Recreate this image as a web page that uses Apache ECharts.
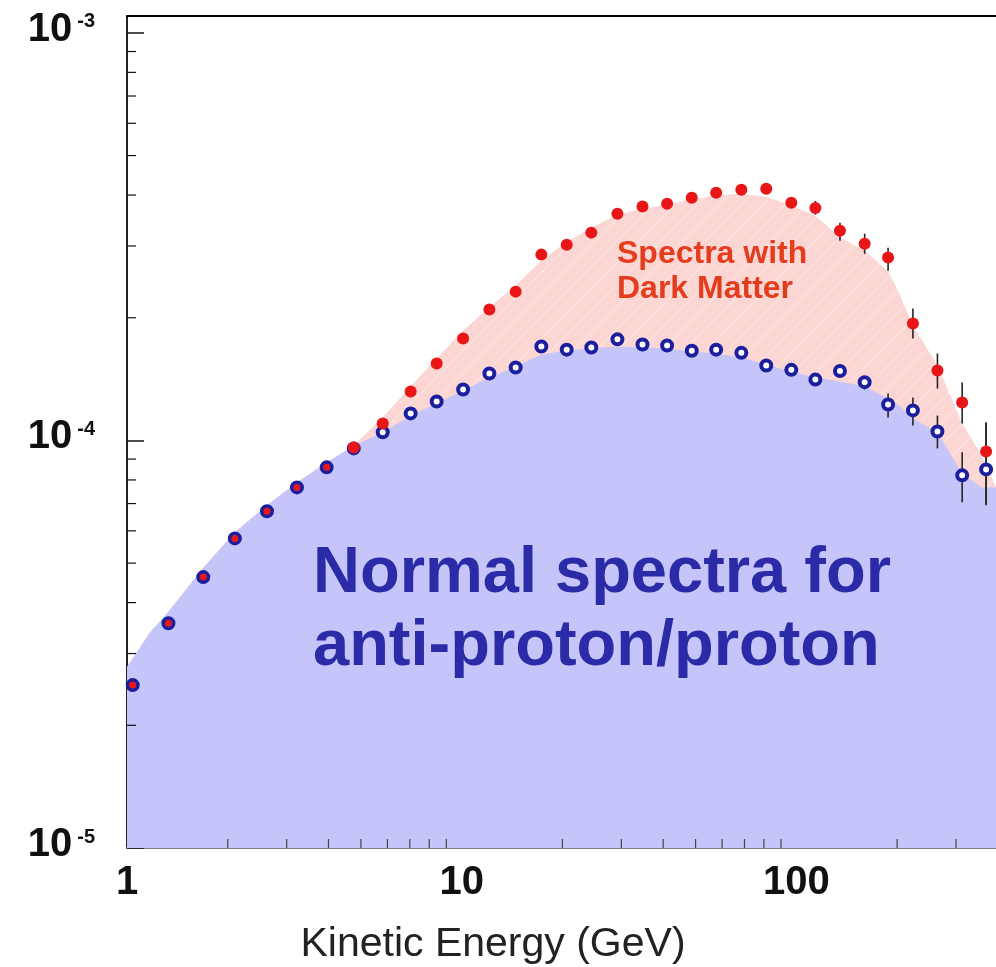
<!DOCTYPE html>
<html><head><meta charset="utf-8">
<script src="https://cdn.jsdelivr.net/npm/echarts@6/dist/echarts.min.js"></script>
<style>html,body{margin:0;padding:0;background:#fff}#c{width:996px;height:967px}</style>
</head><body><div id="c"></div>
<script>
// Measured points (kinetic energy in GeV)
const energies = [1.04,1.33,1.69,2.10,2.62,3.22,3.95,4.76,5.81,7.04,8.42,10.1,12.1,14.5,17.3,20.6,24.4,29.2,34.7,41.1,48.7,57.6,68.5,81.3,96.6,114,135,160,188,223,264,313,369];
const normalValues = [2.51e-5,3.56e-5,4.62e-5,5.75e-5,6.70e-5,7.67e-5,8.59e-5,9.56e-5,1.047e-4,1.165e-4,1.246e-4,1.333e-4,1.459e-4,1.51e-4,1.70e-4,1.67e-4,1.69e-4,1.77e-4,1.72e-4,1.71e-4,1.66e-4,1.67e-4,1.64e-4,1.527e-4,1.49e-4,1.41e-4,1.48e-4,1.39e-4,1.225e-4,1.185e-4,1.052e-4,8.21e-5,8.49e-5];
const darkMatterValues = [2.51e-5,3.56e-5,4.62e-5,5.75e-5,6.70e-5,7.67e-5,8.59e-5,9.61e-5,1.10e-4,1.318e-4,1.544e-4,1.778e-4,2.095e-4,2.318e-4,2.857e-4,3.02e-4,3.235e-4,3.60e-4,3.75e-4,3.81e-4,3.94e-4,4.055e-4,4.12e-4,4.145e-4,3.83e-4,3.72e-4,3.27e-4,3.04e-4,2.81e-4,1.935e-4,1.484e-4,1.239e-4,9.40e-5];
// error bars: [energy, low, high]
const normalErrors = [[135,1.451e-4,1.518e-4],[160,1.334e-4,1.435e-4],[188,1.138e-4,1.304e-4],[223,1.088e-4,1.275e-4],[264,9.56e-5,1.151e-4],[313,7.05e-5,9.35e-5],[369,6.97e-5,1.107e-4]];
const darkMatterErrors = [[114,3.58e-4,3.87e-4],[135,3.09e-4,3.42e-4],[160,2.87e-4,3.216e-4],[188,2.61e-4,2.97e-4],[223,1.778e-4,2.106e-4],[264,1.341e-4,1.634e-4],[313,1.10e-4,1.387e-4],[369,6.93e-5,1.107e-4]];
// Model spectra (filled areas)
const modelEnergies = [1.0,1.171,1.326,1.686,2.10,2.62,3.22,3.95,4.76,5.81,7.04,8.42,10.1,12.1,14.5,17.3,20.6,24.4,29.2,34.7,41.1,48.7,57.6,68.5,81.3,96.6,114,135,160,188,203,223,264,313,358,395];
const normalModel = [2.78e-5,3.38e-5,3.79e-5,4.86e-5,5.95e-5,6.93e-5,7.89e-5,8.83e-5,9.72e-5,1.046e-4,1.151e-4,1.232e-4,1.326e-4,1.427e-4,1.518e-4,1.624e-4,1.662e-4,1.68e-4,1.70e-4,1.69e-4,1.68e-4,1.652e-4,1.634e-4,1.597e-4,1.536e-4,1.476e-4,1.427e-4,1.395e-4,1.356e-4,1.268e-4,1.219e-4,1.132e-4,1.046e-4,8.30e-5,7.67e-5,7.67e-5];
const darkMatterModel = [2.78e-5,3.38e-5,3.79e-5,4.86e-5,5.95e-5,6.93e-5,7.89e-5,8.83e-5,9.72e-5,1.138e-4,1.356e-4,1.589e-4,1.86e-4,2.118e-4,2.398e-4,2.76e-4,3.074e-4,3.327e-4,3.58e-4,3.70e-4,3.79e-4,3.90e-4,3.99e-4,4.03e-4,3.96e-4,3.77e-4,3.56e-4,3.145e-4,2.92e-4,2.60e-4,2.29e-4,1.913e-4,1.527e-4,1.101e-4,9.19e-5,7.67e-5];
// Axis ranges and minor ticks
const X_MIN = 1, X_MAX = 395, Y_MIN = 1e-5, Y_MAX = 1.1e-3;
const xMinorTicks = [2,3,4,5,6,7,8,9,20,30,40,50,60,70,80,90,200,300];
const yMinorTicks = [2e-5,3e-5,4e-5,5e-5,6e-5,7e-5,8e-5,9e-5,2e-4,3e-4,4e-4,5e-4,6e-4,7e-4,8e-4,9e-4];

function hatch(){
  const s = 22, c = document.createElement('canvas'); c.width = s; c.height = s;
  const g = c.getContext('2d');
  g.fillStyle = '#fcd6d3'; g.fillRect(0,0,s,s);
  g.strokeStyle = 'rgba(255,255,255,0.35)'; g.lineWidth = 1.2;
  g.beginPath(); g.moveTo(-2,s+2); g.lineTo(s+2,-2); g.stroke();
  return c;
}

const chart = echarts.init(document.getElementById('c'), null, {renderer:'canvas'});
const FONT = '"Liberation Sans", Arial, sans-serif';

const tickSeries = (data, vertical, len, color) => ({
  type:'custom', coordinateSystem:'cartesian2d', z:6, silent:true,
  data: data,
  renderItem(params, api){
    const p = api.coord([api.value(0), api.value(1)]);
    const shape = vertical ? {x1:p[0], y1:p[1], x2:p[0], y2:p[1]-len} : {x1:p[0], y1:p[1], x2:p[0]+len, y2:p[1]};
    return {type:'line', shape, style:{stroke:color, lineWidth:1.2}};
  }
});

const errSeries = (data) => ({
  type:'custom', coordinateSystem:'cartesian2d', z:7, silent:true,
  data: data, encode:{x:0, y:[1,2]},
  renderItem(params, api){
    const x = api.value(0);
    const a = api.coord([x, api.value(1)]), b = api.coord([x, api.value(2)]);
    return {type:'line', shape:{x1:a[0], y1:a[1], x2:b[0], y2:b[1]}, style:{stroke:'#262626', lineWidth:1.6}};
  }
});

chart.setOption({
  animation:false,
  backgroundColor:'#fff',
  grid:{left:127, right:0, top:16, bottom:119, containLabel:false, outerBoundsMode:'none'},
  xAxis:[{
    type:'log', logBase:10, min:X_MIN, max:X_MAX, position:'bottom',
    axisLine:{show:true, lineStyle:{color:'#808080', width:2}},
    axisTick:{show:true, inside:true, length:17, lineStyle:{color:'#444', width:1.2}},
    axisLabel:{fontSize:40, fontWeight:'bold', fontFamily:FONT, color:'#111', margin:15, showMaxLabel:false,
      formatter:v=>String(Math.round(v))},
    splitLine:{show:false}, minorTick:{show:false},
    name:'Kinetic Energy (GeV)', nameLocation:'middle', nameGap:76,
    nameTextStyle:{fontSize:41, fontFamily:FONT, color:'#222', padding:[0,137,0,0]}
  },{
    type:'log', logBase:10, min:X_MIN, max:X_MAX, position:'top',
    axisLine:{show:true, lineStyle:{color:'#000', width:2}},
    axisTick:{show:false}, axisLabel:{show:false}, splitLine:{show:false}
  }],
  yAxis:{
    type:'log', logBase:10, min:Y_MIN, max:Y_MAX,
    axisLine:{show:true, lineStyle:{color:'#222', width:2}},
    axisTick:{show:true, inside:true, length:17, lineStyle:{color:'#111', width:1.5}},
    axisLabel:{margin:32, showMaxLabel:false, padding:[0,0,6,0],
      formatter:v=>'{b|10}{s|' + Math.round(Math.log10(v)) + '}',
      rich:{
        b:{fontSize:40, fontWeight:'bold', fontFamily:FONT, color:'#111', lineHeight:36},
        s:{fontSize:20, fontWeight:'bold', fontFamily:FONT, color:'#111', verticalAlign:'top', lineHeight:22, padding:[0,0,0,5]}
      }},
    splitLine:{show:false}
  },
  series:[
    {type:'line', name:'Spectra with Dark Matter model', z:1, silent:true, symbol:'none',
      data: modelEnergies.map((e,i)=>[e, darkMatterModel[i]]),
      lineStyle:{width:0}, areaStyle:{origin:'start', opacity:1, color:{image:hatch(), repeat:'repeat'}}},
    {type:'line', name:'Normal model', z:2, silent:true, symbol:'none',
      data: modelEnergies.map((e,i)=>[e, normalModel[i]]),
      lineStyle:{width:0}, areaStyle:{origin:'start', opacity:1, color:'#c5c5fa'}},
    tickSeries(xMinorTicks.map(v=>[v, Y_MIN]), true, 9, '#444'),
    tickSeries(yMinorTicks.map(v=>[X_MIN, v]), false, 9, '#111'),
    errSeries(normalErrors),
    errSeries(darkMatterErrors),
    {type:'scatter', name:'Normal', z:8, silent:true,
      data: energies.map((e,i)=>[e, normalValues[i]]),
      symbol:'circle', symbolSize:10,
      itemStyle:{color:'#ffffff', borderColor:'#1b1f9e', borderWidth:4, opacity:1}},
    {type:'scatter', name:'Dark Matter', z:9, silent:true,
      data: energies.map((e,i)=>[e, darkMatterValues[i]]),
      symbol:'circle',
      symbolSize:(val, p)=> val[1] === normalValues[p.dataIndex] ? 7 : 12,
      itemStyle:{color:'#e81616', opacity:1}}
  ],
  graphic:[
    {type:'text', z:100, silent:true, style:{text:'Normal spectra for\nanti-proton/proton', x:313, y:538,
      font:'bold 65px ' + FONT, fill:'#2b2ba8', lineHeight:73, verticalAlign:'top', align:'left'}},
    {type:'text', z:100, silent:true, style:{text:'Spectra with\nDark Matter', x:617, y:237,
      font:'bold 32px ' + FONT, fill:'#e63c1e', lineHeight:35, verticalAlign:'top', align:'left'}}
  ]
});
</script>
</body></html>
